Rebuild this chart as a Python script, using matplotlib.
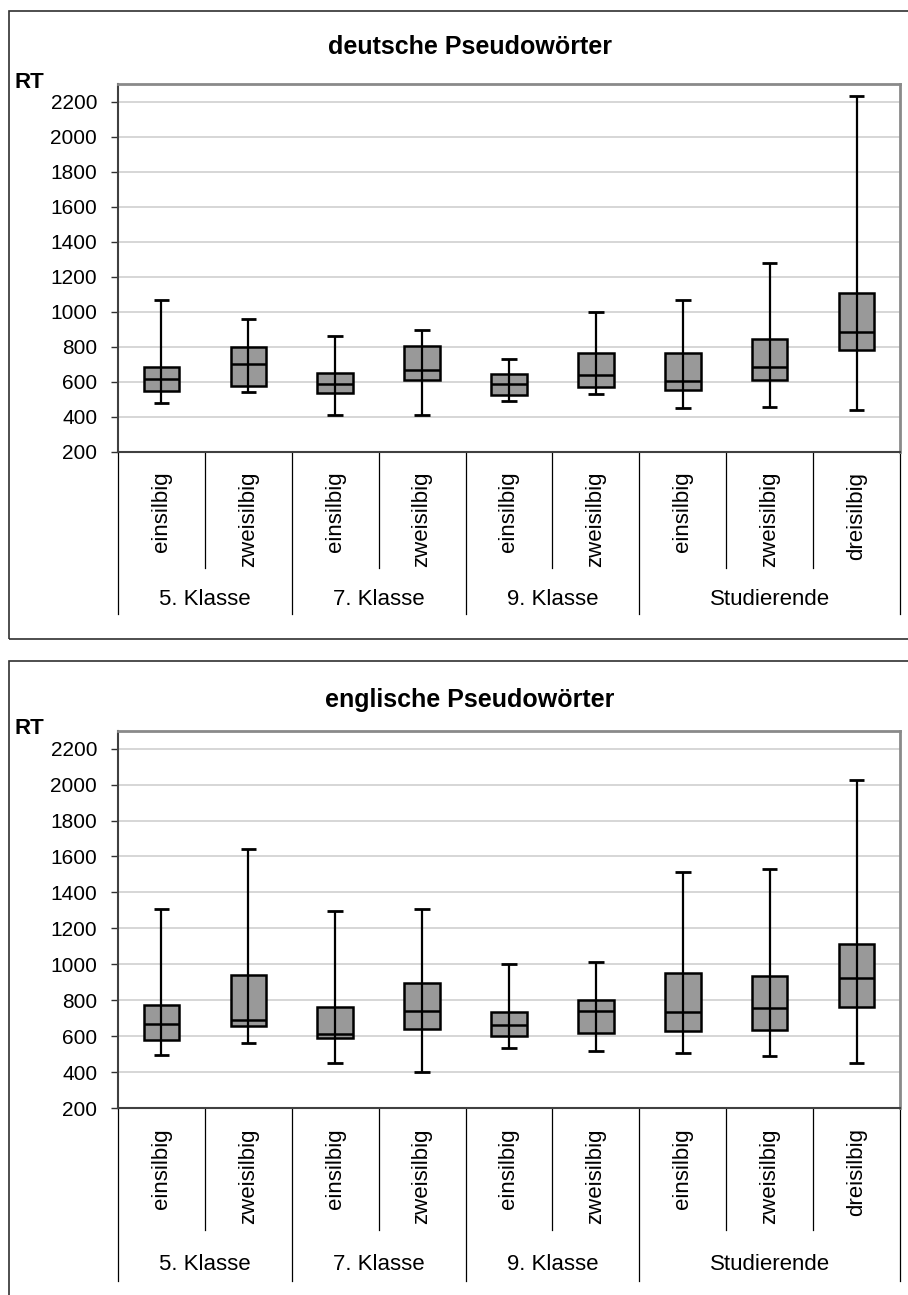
import matplotlib

matplotlib.use("Agg")
import matplotlib.pyplot as plt
from matplotlib.patches import Rectangle
from matplotlib.transforms import blended_transform_factory

plt.rcParams["font.family"] = ["Liberation Sans", "DejaVu Sans"]

W, H = 908, 1295

# Kategorien
gruppen = ["5. Klasse", "7. Klasse", "9. Klasse", "Studierende"]
gruppen_n = [2, 2, 2, 3]
silben = ["einsilbig", "zweisilbig", "einsilbig", "zweisilbig", "einsilbig",
          "zweisilbig", "einsilbig", "zweisilbig", "dreisilbig"]
y_ticks = list(range(200, 2201, 200))

# deutsche Pseudowörter (RT in ms)
de_min = [480, 539, 408, 408, 488, 528, 451, 453, 438]
de_q1 = [549, 577, 535, 608, 522, 571, 554, 610, 779]
de_med = [617, 701, 587, 665, 585, 638, 606, 682, 884]
de_q3 = [682, 796, 650, 804, 644, 766, 762, 842, 1108]
de_max = [1066, 958, 861, 893, 728, 996, 1066, 1277, 2233]

# englische Pseudowörter
en_min = [497, 561, 448, 398, 534, 519, 505, 490, 451]
en_q1 = [581, 656, 592, 641, 598, 615, 630, 634, 761]
en_med = [670, 692, 613, 741, 664, 741, 735, 757, 925]
en_q3 = [772, 943, 761, 893, 735, 800, 950, 935, 1113]
en_max = [1306, 1644, 1296, 1309, 1000, 1013, 1513, 1528, 2025]


def fy(px):
    return 1 - px / H


def chart(fig, titel, mins, q1, med, q3, maxs, frame_top, frame_bot,
          title_y, rt_y, ax_top, ax_bot, offs):
    # äußerer Rahmen (rechts abgeschnitten wie im Original)
    fig.patches.append(Rectangle((9 / W, fy(frame_bot)), 1.1, (frame_bot - frame_top) / H,
                                 transform=fig.transFigure, fill=False,
                                 edgecolor="#303030", linewidth=1.2))
    fig.text(470 / W, fy(title_y), titel, ha="center", va="center",
             fontsize=18, fontweight="bold")
    fig.text(15 / W, fy(rt_y), "RT", ha="left", va="center",
             fontsize=16, fontweight="bold")

    ax = fig.add_axes([118 / W, fy(ax_bot), (900 - 118) / W, (ax_bot - ax_top) / H])
    x = list(range(len(silben)))
    ax.set_xlim(-0.5, len(silben) - 0.5)
    ax.set_ylim(200, 2300)
    ax.set_yticks(y_ticks)
    ax.set_yticklabels([str(t) for t in y_ticks], fontsize=15)
    ax.tick_params(axis="y", length=5, width=1, pad=10, color="#303030")
    ax.set_xticks([])
    ax.grid(axis="y", color="#cfcfcf", linewidth=1.2)
    ax.set_axisbelow(True)
    for s in ("top", "right"):
        ax.spines[s].set_color("#8a8a8a")
        ax.spines[s].set_linewidth(2)
    for s in ("left", "bottom"):
        ax.spines[s].set_color("#404040")
        ax.spines[s].set_linewidth(1.5)

    hoehe = [b - a for a, b in zip(q1, q3)]
    ax.bar(x, hoehe, bottom=q1, width=0.41, color="#999999",
           edgecolor="black", linewidth=1.8, zorder=2)
    ax.vlines(x, mins, maxs, color="black", linewidth=1.6, zorder=3)
    ax.hlines(med, [i - 0.205 for i in x], [i + 0.205 for i in x],
              color="black", linewidth=1.8, zorder=3)
    ax.hlines(mins, [i - 0.09 for i in x], [i + 0.09 for i in x],
              color="black", linewidth=2, zorder=3)
    ax.hlines(maxs, [i - 0.09 for i in x], [i + 0.09 for i in x],
              color="black", linewidth=2, zorder=3)

    # zweistufige Kategorienachse unter dem Diagramm
    tr = blended_transform_factory(ax.transData, fig.transFigure)
    text_off, inner_off, grp_off, outer_off = offs
    grenzen = [-0.5]
    for n in gruppen_n:
        grenzen.append(grenzen[-1] + n)
    for i in range(len(silben) + 1):
        b = i - 0.5
        ende = outer_off if b in grenzen else inner_off
        ax.plot([b, b], [fy(ax_bot), fy(ax_bot + ende)], transform=tr,
                color="black", linewidth=0.9, clip_on=False)
    for i, s in enumerate(silben):
        ax.text(i, fy(ax_bot + text_off), s, transform=tr, rotation=90,
                ha="center", va="top", fontsize=16)
    for g, a, b in zip(gruppen, grenzen[:-1], grenzen[1:]):
        ax.text((a + b) / 2, fy(ax_bot + grp_off), g, transform=tr,
                ha="center", va="center", fontsize=16)
    return ax


fig = plt.figure(figsize=(W / 100, H / 100), dpi=100)
chart(fig, "deutsche Pseudowörter", de_min, de_q1, de_med, de_q3, de_max,
      frame_top=11, frame_bot=639, title_y=47, rt_y=83,
      ax_top=84, ax_bot=451.7, offs=(20, 116, 148, 162))
chart(fig, "englische Pseudowörter", en_min, en_q1, en_med, en_q3, en_max,
      frame_top=661, frame_bot=1320, title_y=700, rt_y=728,
      ax_top=730.7, ax_bot=1108, offs=(20, 122, 157, 173))
fig.savefig("out.png", dpi=100)
